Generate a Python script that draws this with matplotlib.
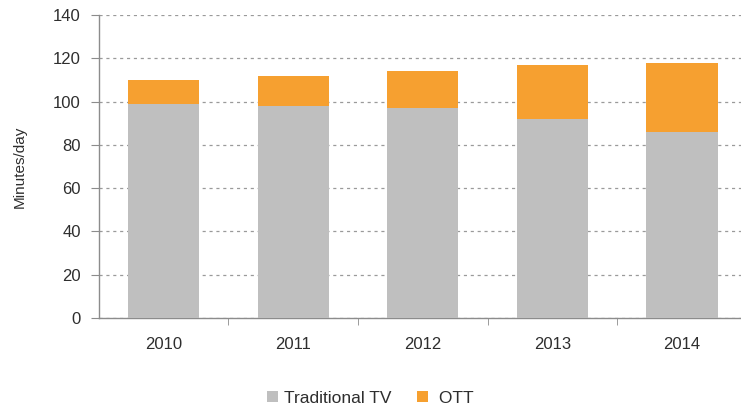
import matplotlib.pyplot as plt
from matplotlib.patches import Patch
import numpy as np

plt.rcParams['font.family'] = ['Liberation Sans', 'DejaVu Sans']

years = ['2010', '2011', '2012', '2013', '2014']
traditional_tv = [99, 98, 97, 92, 86]
ott = [11, 14, 17, 25, 32]

grey = '#BFBFBF'
orange = '#F6A030'
text_col = '#2E2E2E'
axis_col = '#8C8C8C'

fig = plt.figure(figsize=(7.41, 4.08), dpi=100)
ax = fig.add_axes([0.1333, 0.2206, 0.8745, 0.7426])

x = np.arange(len(years))
ax.bar(x, traditional_tv, width=0.55, color=grey, zorder=3)
ax.bar(x, ott, width=0.55, bottom=traditional_tv, color=orange, zorder=3)

ax.set_xlim(-0.5, len(years) - 0.5)
ax.set_ylim(0, 140)
ax.set_yticks(np.arange(0, 141, 20))
ax.set_xticks(x)
ax.set_xticklabels(years)
# category separators as minor ticks on the x axis
ax.set_xticks(np.arange(0.5, len(years) - 0.5, 1), minor=True)
ax.tick_params(axis='x', which='major', length=0, pad=14, labelsize=12, labelcolor=text_col)
ax.tick_params(axis='x', which='minor', length=5, color=axis_col, direction='out')
ax.tick_params(axis='y', length=6, color=axis_col, labelsize=12, labelcolor=text_col, pad=7)

ax.grid(axis='y', linestyle=(0, (2.5, 3)), color='#9A9A9A', linewidth=0.9, zorder=0)
for side in ['top', 'right']:
    ax.spines[side].set_visible(False)
for side in ['left', 'bottom']:
    ax.spines[side].set_color(axis_col)
    ax.spines[side].set_linewidth(1.0)

fig.text(0.026, 0.59, 'Minutes/day', rotation=90, ha='center', va='center',
         fontsize=11, color=text_col)

handles = [Patch(facecolor=grey, edgecolor='none'), Patch(facecolor=orange, edgecolor='none')]
fig.legend(handles, ['Traditional TV', ' OTT'], loc='center', bbox_to_anchor=(0.5, 0.024),
           ncol=2, frameon=False, fontsize=12.5, labelcolor=text_col,
           handlelength=0.6, handleheight=0.6, handletextpad=0.35, columnspacing=1.5)

fig.savefig('out.png', dpi=100)
